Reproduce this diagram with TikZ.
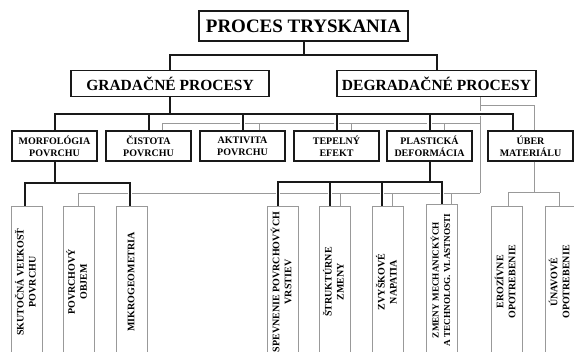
\documentclass[tikz,border=0pt]{standalone}
\usepackage{fontspec}
\usepackage{graphicx}
\setmainfont{Liberation Serif}
\usetikzlibrary{positioning}
\usetikzlibrary{calc}

\definecolor{ciara}{gray}{0.1}
\definecolor{sivaciara}{gray}{0.6}

\newcommand{\zvislo}[1]{\rotatebox{90}{\begin{tabular}{@{}c@{}}#1\end{tabular}}}

\tikzset{
  hlavny/.style={draw=ciara, line width=1.4pt, inner sep=0pt,
    minimum width=209pt, minimum height=30pt, font=\bfseries\fontsize{19}{22}\selectfont},
  skupina/.style={draw=ciara, line width=1.4pt, inner sep=0pt,
    minimum width=198pt, minimum height=26pt, font=\bfseries\fontsize{15.5}{18}\selectfont},
  oblast/.style={draw=ciara, line width=1.3pt, inner sep=0pt, align=center,
    minimum width=85pt, minimum height=30pt, font=\bfseries\fontsize{10}{12}\selectfont},
  ucinok/.style={draw=sivaciara, line width=0.8pt, inner sep=0pt,
    minimum width=31pt, minimum height=152pt, font=\bfseries\fontsize{10}{12}\selectfont},
  seda/.style={draw=sivaciara, line width=1pt},
}

\begin{document}
\begin{tikzpicture}[x=1pt, y=-1pt]
  \useasboundingbox (0,0) rectangle (574,352);
  \clip (0,0) rectangle (574,352);

  \node[hlavny] (tryskanie) at (303.5,26) {PROCES TRYSKANIA};
  \node[skupina] (grad) at (170,83.5) {GRADAČNÉ PROCESY};
  \node[skupina, minimum width=199pt] (degrad) at (436.5,83.5) {DEGRADAČNÉ PROCESY};

  \node[oblast] (morf) at (54.5,146) {MORFOLÓGIA\\POVRCHU};
  \node[oblast] (cist) at (148.5,146) {ČISTOTA\\POVRCHU};
  \node[oblast] (akt) at (242.5,146) {AKTIVITA\\POVRCHU};
  \node[oblast] (tep) at (336.5,146) {TEPELNÝ\\EFEKT};
  \node[oblast] (plast) at (429.5,146) {PLASTICKÁ\\DEFORMÁCIA};
  \node[oblast] (uber) at (530.5,146) {ÚBER\\MATERIÁLU};

  \node[ucinok] (skut) at (27,282) {\zvislo{SKUTOČNÁ VEĽKOSŤ\\POVRCHU}};
  \node[ucinok] (objem) at (78.5,282) {\zvislo{POVRCHOVÝ\\OBJEM}};
  \node[ucinok] (mikro) at (132,282) {\zvislo{MIKROGEOMETRIA}};
  \node[ucinok] (spev) at (283,282) {\zvislo{SPEVNENIE POVRCHOVÝCH\\VRSTIEV}};
  \node[ucinok] (strukt) at (335,282) {\zvislo{ŠTRUKTÚRNE\\ZMENY}};
  \node[ucinok] (zvys) at (388,282) {\zvislo{ZVYŠKOVÉ\\NAPATIA}};
  \node[ucinok, font=\bfseries\fontsize{9.2}{11.5}\selectfont] (zmeny) at (442,280)
    {\zvislo{ZMENY MECHANICKÝCH\\A TECHNOLOG. VLASTNOSTI}};
  \node[ucinok] (eroz) at (507,282) {\zvislo{EROZÍVNE\\OPOTREBENIE}};
  \node[ucinok] (unav) at (561,282) {\zvislo{ÚNAVOVÉ\\OPOTREBENIE}};

  % degradacne vazby (sive)
  \coordinate (d0) at ($(degrad.south)+(43.5,0)$);
  \draw[seda] (d0) -- ++(0,8.5) -| ($(uber.north)+(3.5,0)$);
  \draw[seda] (d0) -- ++(0,96) coordinate (s2);
  \draw[seda] ($(cist.north)+(13.5,0)$) |- ($(d0)+(0,26.5)$) coordinate (s1);
  \foreach \n/\dx in {akt/16.5, tep/14.5, plast/14.5}
    \draw[seda] ($(\n.north)+(\dx,0)$) coordinate (t) -- (t |- s1);
  \draw[seda] (objem.north) |- (s2);
  \foreach \n/\dx in {strukt/5, zvys/4, zmeny/9}
    \draw[seda] ($(\n.north)+(\dx,0)$) coordinate (t) -- (t |- s2);
  \draw[seda] ($(uber.south)+(3.5,0)$) -- ++(0,31) coordinate (u1);
  \draw[seda] ($(eroz.north)+(1,0)$) |- (u1) -| ($(unav.north)+(-2,0)$);

  % gradacne vazby (najprv biely podklad, potom ciara)
  \foreach \farba/\hrubka in {white/4.5pt, ciara/2pt}{
    \begin{scope}[draw=\farba, line width=\hrubka]
      \draw (grad.north) -- ++(0,-14.5) coordinate (g1) -| (degrad.north);
      \draw (tryskanie.south) -- (tryskanie.south |- g1);
      \draw (grad.south) -- ++(0,16.5) coordinate (g2);
      \draw (morf.north) |- (g2) -| ($(uber.north)+(-17.5,0)$);
      \foreach \n in {cist, akt, tep, plast}
        \draw (\n.north) -- (\n.north |- g2);
      \draw (morf.south) -- ++(0,21) coordinate (m1);
      \draw ($(skut.north)+(-2,0)$) |- (m1) -| ($(mikro.north)+(-2,0)$);
      \draw (plast.south) -- ++(0,20) coordinate (p1);
      \draw ($(spev.north)+(-5,0)$) |- (p1) -| (zmeny.north);
      \foreach \n/\dx in {strukt/-5, zvys/-6}
        \draw ($(\n.north)+(\dx,0)$) coordinate (t) -- (t |- p1);
    \end{scope}
  }
\end{tikzpicture}
\end{document}
